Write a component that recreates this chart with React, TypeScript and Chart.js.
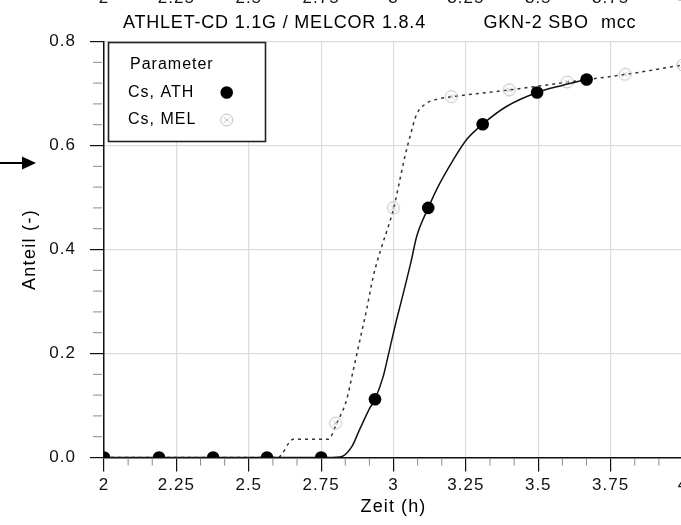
import React, { useEffect, useRef } from "react";
import { Chart, registerables } from "chart.js";

Chart.register(...registerables);

// ---- data ----
const athLineX = [2.0, 2.19, 2.377, 2.563, 2.75, 2.815, 2.855, 2.884, 2.918, 2.936, 2.964, 2.982, 3.005, 3.034, 3.062, 3.08, 3.12, 3.154, 3.206, 3.252, 3.308, 3.39, 3.496, 3.586, 3.667];
const athLineY = [0, 0, 0, 0, 0, 0.001, 0.02, 0.055, 0.095, 0.112, 0.155, 0.197, 0.252, 0.316, 0.38, 0.425, 0.48, 0.521, 0.572, 0.611, 0.641, 0.675, 0.702, 0.716, 0.727];
const athMarkX = [2.0, 2.19, 2.377, 2.563, 2.75, 2.936, 3.12, 3.308, 3.496, 3.667];
const athMarkY = [0, 0, 0, 0, 0, 0.112, 0.48, 0.641, 0.702, 0.727];

const melLineX = [2.0, 2.6, 2.654, 2.775, 2.804, 2.838, 2.861, 2.884, 2.907, 2.93, 2.959, 2.982, 3.001, 3.022, 3.039, 3.057, 3.08, 3.114, 3.16, 3.204, 3.402, 3.603, 3.805, 4.0];
const melLineY = [0, 0, 0.035, 0.035, 0.066, 0.111, 0.168, 0.226, 0.284, 0.348, 0.405, 0.444, 0.48, 0.534, 0.578, 0.617, 0.66, 0.681, 0.69, 0.694, 0.707, 0.722, 0.737, 0.755];
const melMarkX = [2.8, 3.0, 3.2, 3.4, 3.6, 3.8, 4.0];
const melMarkY = [0.066, 0.48, 0.694, 0.707, 0.722, 0.737, 0.755];

const xTickLabels = ["2", "2.25", "2.5", "2.75", "3", "3.25", "3.5", "3.75", "4"];
const yTickLabels = ["0.0", "0.2", "0.4", "0.6", "0.8"];
const titleParts = ["ATHLET-CD 1.1G / MELCOR 1.8.4", "GKN-2 SBO", "mcc"];
const legendTitle = "Parameter";
const seriesNames = ["Cs, ATH", "Cs, MEL"];
const xAxisTitle = "Zeit (h)";
const yAxisTitle = "Anteil (-)";

const FONT = "'Liberation Sans', Arial, sans-serif";

function makeMelMarker(): HTMLCanvasElement {
  const c = document.createElement("canvas");
  c.width = 16;
  c.height = 16;
  const g = c.getContext("2d")!;
  g.strokeStyle = "#bdbdbd";
  g.lineWidth = 1;
  g.beginPath();
  g.arc(8, 8, 6, 0, Math.PI * 2);
  g.stroke();
  g.beginPath();
  g.moveTo(5.5, 5.5);
  g.lineTo(10.5, 10.5);
  g.moveTo(10.5, 5.5);
  g.lineTo(5.5, 10.5);
  g.stroke();
  return c;
}

export default function App() {
  const ref = useRef<HTMLCanvasElement | null>(null);

  useEffect(() => {
    if (!ref.current) return;
    const melMarker = makeMelMarker();

    const decoPlugin = {
      id: "deco",
      beforeDraw(chart: any) {
        chart.ctx.letterSpacing = "1px";
      },
      afterDraw(chart: any) {
        const ctx = chart.ctx as CanvasRenderingContext2D & { letterSpacing: string };
        const xs = chart.scales.x;
        const ys = chart.scales.y;
        const area = chart.chartArea;
        ctx.save();

        // minor ticks x (every 5 min)
        ctx.strokeStyle = "#8a8a8a";
        ctx.lineWidth = 1;
        for (let k = 0; k <= 24; k++) {
          if (k % 3 === 0) continue;
          const px = xs.getPixelForValue(2 + k / 12);
          ctx.beginPath();
          ctx.moveTo(px, area.bottom + 1);
          ctx.lineTo(px, area.bottom + 8);
          ctx.stroke();
        }
        // minor ticks y (every 0.04)
        for (let k = 0; k <= 20; k++) {
          if (k % 5 === 0) continue;
          const py = ys.getPixelForValue(k * 0.04);
          ctx.beginPath();
          ctx.moveTo(area.left - 11, py);
          ctx.lineTo(area.left - 2, py);
          ctx.stroke();
        }

        ctx.fillStyle = "#000";
        ctx.letterSpacing = "0.8px";
        // title
        ctx.font = `18px ${FONT}`;
        ctx.textBaseline = "alphabetic";
        ctx.textAlign = "left";
        ctx.fillText(titleParts[0], 123, 27.5);
        ctx.fillText(titleParts[1], 483.5, 27.5);
        ctx.fillText(titleParts[2], 601, 27.5);

        // cut-off labels of the panel above
        ctx.letterSpacing = "1px";
        ctx.font = `17px ${FONT}`;
        ctx.textAlign = "center";
        ctx.fillStyle = "#111";
        xTickLabels.forEach((t, i) => {
          ctx.fillText(t, xs.getPixelForValue(2 + i * 0.25), 3);
        });

        // axis titles
        ctx.fillStyle = "#000";
        ctx.font = `18px ${FONT}`;
        ctx.textBaseline = "middle";
        ctx.letterSpacing = "1.1px";
        ctx.fillText(xAxisTitle, (area.left + area.right) / 2, 507);
        ctx.save();
        ctx.translate(30, (area.top + area.bottom) / 2);
        ctx.rotate(-Math.PI / 2);
        ctx.letterSpacing = "1.3px";
        ctx.fillText(yAxisTitle, 0, 0);
        ctx.restore();

        // arrow at the left
        ctx.strokeStyle = "#000";
        ctx.lineWidth = 2;
        ctx.beginPath();
        ctx.moveTo(0, 163);
        ctx.lineTo(24, 163);
        ctx.stroke();
        ctx.fillStyle = "#000";
        ctx.beginPath();
        ctx.moveTo(22, 156.5);
        ctx.lineTo(36, 163);
        ctx.lineTo(22, 169.5);
        ctx.closePath();
        ctx.fill();

        // legend box
        ctx.fillStyle = "#fff";
        ctx.fillRect(108.5, 42.5, 157, 99);
        ctx.strokeStyle = "#222";
        ctx.lineWidth = 1.6;
        ctx.strokeRect(108.5, 42.5, 157, 99);
        ctx.fillStyle = "#000";
        ctx.font = `16px ${FONT}`;
        ctx.textAlign = "left";
        ctx.textBaseline = "middle";
        ctx.letterSpacing = "1px";
        ctx.fillText(legendTitle, 130, 65);
        ctx.fillText(seriesNames[0], 128, 93);
        ctx.fillText(seriesNames[1], 128, 120);
        ctx.beginPath();
        ctx.arc(226.7, 92.5, 6.3, 0, Math.PI * 2);
        ctx.fillStyle = "#000";
        ctx.fill();
        ctx.drawImage(melMarker, 226.7 - 8, 120 - 8);

        ctx.restore();
        ctx.letterSpacing = "0px";
      },
    };

    const chart = new Chart(ref.current, {
      type: "scatter",
      data: {
        datasets: [
          {
            label: seriesNames[0] + " markers",
            data: athMarkX.map((x, i) => ({ x, y: athMarkY[i] })),
            showLine: false,
            pointRadius: 6.3,
            pointBackgroundColor: "#000",
            pointBorderColor: "#000",
            pointBorderWidth: 0,
            clip: 0,
            order: 0,
          },
          {
            label: seriesNames[0],
            data: athLineX.map((x, i) => ({ x, y: athLineY[i] })),
            showLine: true,
            borderColor: "#111",
            borderWidth: 1.5,
            pointRadius: 0,
            cubicInterpolationMode: "monotone",
            clip: 0,
            order: 1,
          },
          {
            label: seriesNames[1] + " markers",
            data: melMarkX.map((x, i) => ({ x, y: melMarkY[i] })),
            showLine: false,
            pointStyle: melMarker,
            pointRadius: 6,
            clip: 0,
            order: 2,
          },
          {
            label: seriesNames[1],
            data: melLineX.map((x, i) => ({ x, y: melLineY[i] })),
            showLine: true,
            borderColor: "#333",
            borderWidth: 1.5,
            borderDash: [3, 4],
            pointRadius: 0,
            cubicInterpolationMode: "monotone",
            clip: 0,
            order: 3,
          },
        ] as any,
      },
      options: {
        animation: false,
        responsive: false,
        devicePixelRatio: 1,
        events: [],
        layout: { padding: { left: 0, right: 17, top: 41.5, bottom: 0 } },
        plugins: {
          legend: { display: false },
          tooltip: { enabled: false },
          title: { display: false },
        },
        scales: {
          x: {
            type: "linear",
            position: "bottom",
            min: 2,
            max: 4,
            afterFit: (s: any) => {
              s.height = 67.5;
            },
            ticks: {
              stepSize: 0.25,
              padding: 4,
              color: "#111",
              font: { family: FONT, size: 17 },
              maxRotation: 0,
              autoSkip: false,
              callback: (v: any) => xTickLabels[Math.round((Number(v) - 2) * 4)] ?? "",
            },
            grid: { color: "#dcdcdc", lineWidth: 1.2, tickColor: "#111", tickLength: 14, tickWidth: 1.2 },
            border: { display: true, color: "#111", width: 1.5 },
          },
          y: {
            type: "linear",
            min: 0,
            max: 0.8,
            afterFit: (s: any) => {
              s.width = 104;
            },
            ticks: {
              stepSize: 0.2,
              padding: 14,
              color: "#111",
              font: { family: FONT, size: 17 },
              callback: (v: any) => yTickLabels[Math.round(Number(v) / 0.2)] ?? "",
            },
            grid: { color: "#dcdcdc", lineWidth: 1.2, tickColor: "#111", tickLength: 14, tickWidth: 1.2 },
            border: { display: true, color: "#111", width: 1.5 },
          },
        },
      } as any,
      plugins: [decoPlugin],
    });
    return () => chart.destroy();
  }, []);

  return (
    <div style={{ position: "fixed", left: 0, top: 0, width: 681, height: 525, overflow: "hidden", background: "#fff" }}>
      <canvas ref={ref} width={700} height={525} style={{ display: "block", width: 700, height: 525 }} />
    </div>
  );
}
